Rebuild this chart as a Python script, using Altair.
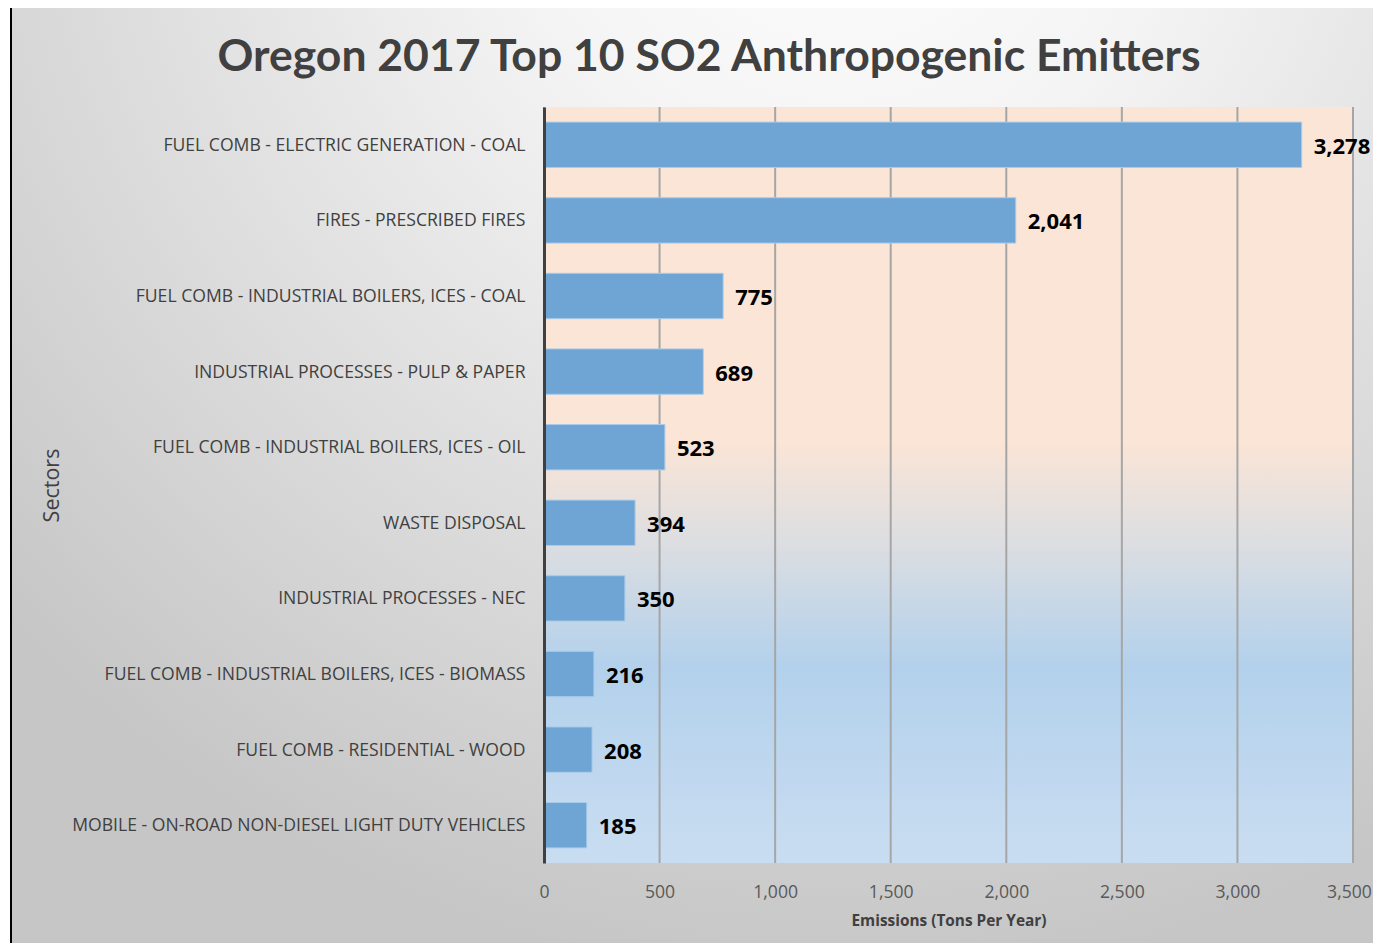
import altair as alt
import pandas as pd

title_text = "Oregon 2017 Top 10 SO2 Anthropogenic Emitters"
sectors = [
    "FUEL COMB - ELECTRIC GENERATION - COAL",
    "FIRES - PRESCRIBED FIRES",
    "FUEL COMB - INDUSTRIAL BOILERS, ICES - COAL",
    "INDUSTRIAL PROCESSES - PULP & PAPER",
    "FUEL COMB - INDUSTRIAL BOILERS, ICES - OIL",
    "WASTE DISPOSAL",
    "INDUSTRIAL PROCESSES - NEC",
    "FUEL COMB - INDUSTRIAL BOILERS, ICES - BIOMASS",
    "FUEL COMB - RESIDENTIAL - WOOD",
    "MOBILE - ON-ROAD NON-DIESEL LIGHT DUTY VEHICLES",
]
emissions = [3278, 2041, 775, 689, 523, 394, 350, 216, 208, 185]
x_ticks = [0, 500, 1000, 1500, 2000, 2500, 3000, 3500]

W, H = 809, 756
FONT = "Open Sans"
TFONT = "Lato"

df = pd.DataFrame({"Sector": sectors, "Emissions": emissions})
df["Label"] = [f"{v:,}" for v in emissions]
ticks_df = pd.DataFrame({"t": x_ticks})

xscale = alt.Scale(domain=[0, 3500], nice=False, zero=True)
yscale = alt.Scale(domain=sectors, paddingInner=0.4, paddingOuter=0.2)

one = alt.Data(values=[{"title": title_text}])

outer_bg = alt.Chart(one).mark_rect(
    fill=alt.RadialGradient(
        gradient="radial",
        stops=[
            alt.GradientStop(color="#ffffff", offset=0),
            alt.GradientStop(color="#f4f4f4", offset=0.3),
            alt.GradientStop(color="#c6c6c6", offset=1),
        ],
        x1=0.58, y1=0.03, r1=0, x2=0.58, y2=0.03, r2=0.8,
    ),
    stroke="#000000",
    strokeWidth=2,
).encode(
    x=alt.value(-533), x2=alt.value(900), y=alt.value(-100), y2=alt.value(900)
)

title = alt.Chart(one).mark_text(
    font=TFONT, fontSize=44.5, fontWeight="bold", color="#404040",
    align="center", baseline="alphabetic"
).encode(x=alt.value(709 - 544), y=alt.value(71 - 107), text="title:N")

plot_bg = alt.Chart(one).mark_rect(
    fill=alt.LinearGradient(
        gradient="linear",
        stops=[
            alt.GradientStop(color="#fbe5d6", offset=0),
            alt.GradientStop(color="#fbe5d6", offset=0.44),
            alt.GradientStop(color="#e0dfe0", offset=0.56),
            alt.GradientStop(color="#b3d1ec", offset=0.74),
            alt.GradientStop(color="#c9ddf1", offset=1),
        ],
        x1=0, y1=0, x2=0, y2=1,
    )
).encode(x=alt.value(0), x2=alt.value(W), y=alt.value(0), y2=alt.value(H))

grid = alt.Chart(ticks_df).mark_rule(color="#a6a6a6", strokeWidth=2).encode(
    x=alt.X("t:Q", scale=xscale), y=alt.value(0), y2=alt.value(H)
)

bars = alt.Chart(df).mark_bar(
    color="#6fa5d5", stroke="#a9cbea", strokeWidth=1
).encode(
    x=alt.X(
        "Emissions:Q",
        scale=xscale,
        axis=alt.Axis(
            values=x_ticks,
            format=",.0f",
            grid=False,
            domain=False,
            ticks=False,
            labelFlush=False,
            labelOffset={"expr": "datum.value == 3500 ? -4 : 0"},
            labelFont=FONT,
            labelFontSize=17.6,
            labelColor="#595959",
            labelPadding=20,
            title="Emissions (Tons Per Year)",
            titleFont=FONT,
            titleFontSize=15.4,
            titleFontWeight="bold",
            titleColor="#404040",
            titlePadding=13,
            zindex=2,
        ),
    ),
    y=alt.Y(
        "Sector:N",
        scale=yscale,
        sort=sectors,
        axis=alt.Axis(
            grid=False,
            ticks=False,
            domain=True,
            domainColor="#404040",
            domainWidth=3,
            labelFont=FONT,
            labelFontSize=17.6,
            labelColor="#404040",
            labelPadding=19,
            labelLimit=600,
            labelOffset=1,
            title="Sectors",
            titleFont=FONT,
            titleFontSize=21.5,
            titleFontWeight="normal",
            titleColor="#404040",
            titleX=-481,
            zindex=2,
        ),
    ),
)

labels = alt.Chart(df).mark_text(
    align="left", baseline="middle", dx=12, dy=2, fontSize=22, fontWeight="bold",
    font=FONT, color="#000000"
).encode(
    x=alt.X("Emissions:Q", scale=xscale),
    y=alt.Y("Sector:N", scale=yscale, sort=sectors),
    text="Label:N",
)

chart = alt.layer(outer_bg, plot_bg, grid, bars, labels, title).properties(
    width=W,
    height=H,
    padding={"left": 536, "top": 99, "right": 20, "bottom": 80},
    autosize=alt.AutoSizeParams(type="none"),
).configure_view(stroke=None)

chart.save("out.html", embed_options={"renderer": "svg", "actions": False})
